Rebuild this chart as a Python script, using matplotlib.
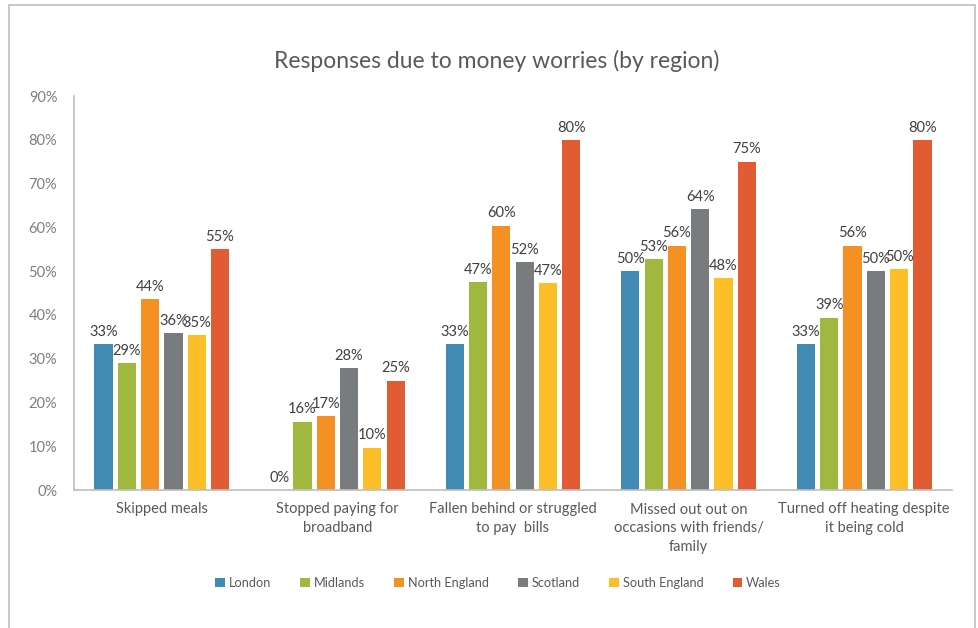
import numpy as np
import matplotlib.pyplot as plt
from matplotlib.patches import Rectangle

plt.rcParams["font.family"] = ["Lato", "DejaVu Sans"]

categories = [
    "Skipped meals",
    "Stopped paying for\nbroadband",
    "Fallen behind or struggled\nto pay  bills",
    "Missed out out on\noccasions with friends/\nfamily",
    "Turned off heating despite\nit being cold",
]
regions = ["London", "Midlands", "North England", "Scotland", "South England", "Wales"]

london = [0.333, 0.0, 0.333, 0.50, 0.333]
midlands = [0.29, 0.156, 0.474, 0.527, 0.394]
north_england = [0.436, 0.168, 0.604, 0.558, 0.558]
scotland = [0.359, 0.279, 0.521, 0.641, 0.50]
south_england = [0.353, 0.097, 0.473, 0.484, 0.504]
wales = [0.55, 0.25, 0.80, 0.75, 0.80]

colors = ["#418AB3", "#A1B83F", "#F59024", "#797C7F", "#FCBF27", "#E15C32"]

series = [london, midlands, north_england, scotland, south_england, wales]

fig = plt.figure(figsize=(9.79, 6.28), dpi=100)
ax = fig.add_axes([74 / 979, 138 / 628, 878 / 979, 394 / 628])

x = np.arange(len(categories))
slot = 0.1327
width = 0.104
for i, (name, vals, col) in enumerate(zip(regions, series, colors)):
    pos = x + (i - 2.5) * slot
    bars = ax.bar(pos, vals, width, color=col, label=name, zorder=2)
    for b, v in zip(bars, vals):
        ax.text(b.get_x() + b.get_width() / 2, v + 0.012, f"{v:.0%}",
                ha="center", va="bottom", fontsize=10.5, color="#404040")

ax.set_xlim(-0.5, len(categories) - 0.5)
ax.set_ylim(0, 0.9)
ax.set_yticks(np.arange(0, 0.91, 0.1))
ax.set_yticklabels([f"{int(round(t * 100))}%" for t in np.arange(0, 0.91, 0.1)])
ax.set_xticks(x)
ax.set_xticklabels(categories, linespacing=1.45)
ax.tick_params(axis="y", length=0, pad=12, labelsize=10.5, labelcolor="#7F7F7F")
ax.tick_params(axis="x", length=0, pad=9, labelsize=10.5, labelcolor="#595959")

for side in ["top", "right"]:
    ax.spines[side].set_visible(False)
for side in ["left", "bottom"]:
    ax.spines[side].set_color("#BFBFBF")
    ax.spines[side].set_linewidth(1.2)

fig.text(497 / 979, 1 - 61 / 628, "Responses due to money worries (by region)",
         ha="center", va="center", fontsize=16.5, color="#595959")

fig.legend(loc="center", bbox_to_anchor=(498 / 979, 1 - 583 / 628), ncol=6,
           frameon=False, handlelength=0.75, handleheight=0.75, handletextpad=0.3,
           columnspacing=2.3, fontsize=9.2, labelcolor="#595959")

# outer chart border
fig.patches.append(Rectangle((9 / 979, -0.01), 966 / 979, 1 - 5 / 628 + 0.01,
                             transform=fig.transFigure, fill=False,
                             edgecolor="#BFBFBF", linewidth=1.2))

fig.savefig("out.png", dpi=100)
